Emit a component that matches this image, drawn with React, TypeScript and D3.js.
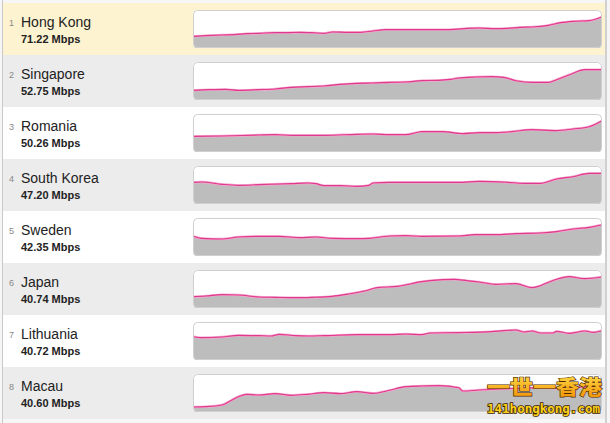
import React from 'react';
import * as d3 from 'd3';

const ranks = [1, 2, 3, 4, 5, 6, 7, 8];
const countries = ['Hong Kong', 'Singapore', 'Romania', 'South Korea', 'Sweden', 'Japan', 'Lithuania', 'Macau'];
const speeds = ['71.22', '52.75', '50.26', '47.20', '42.35', '40.74', '40.72', '40.60'];

// [time index 0..100, relative level 0..108]
const hongKong: [number, number][] = [[0,32],[3,34],[7,36],[10,37],[13,40],[16,41],[20,43],[23,43],[26,44],[29,43],[32,41],[34,45],[38,44],[41,44],[44,48],[47,52],[51,52],[54,52],[57,52],[61,52],[64,53],[67,56],[70,57],[74,55],[77,56],[80,59],[83,60],[87,65],[90,73],[93,77],[97,79],[100,90]];
const singapore: [number, number][] = [[0,26],[4,28],[8,29],[11,26],[16,28],[20,30],[24,35],[28,37],[32,39],[36,44],[40,47],[44,48],[48,50],[52,51],[56,55],[60,56],[63,59],[65,63],[69,66],[73,67],[76,65],[79,55],[83,50],[87,50],[89,58],[92,72],[96,88],[100,88]];
const romania: [number, number][] = [[0,44],[7,45],[16,48],[20,49],[24,47],[32,47],[40,50],[44,51],[48,49],[52,49],[56,58],[61,58],[65,53],[66,52],[70,55],[74,55],[78,58],[83,64],[89,61],[93,66],[97,73],[100,90]];
const southKorea: [number, number][] = [[0,62],[2,63],[7,56],[11,53],[16,55],[24,58],[28,60],[30,58],[32,52],[36,52],[40,50],[43,53],[44,60],[48,62],[56,62],[65,62],[70,65],[77,62],[81,59],[85,59],[89,72],[93,79],[97,89],[100,89]];
const sweden: [number, number][] = [[0,56],[2,50],[7,48],[11,54],[16,56],[21,56],[26,52],[30,54],[34,50],[40,49],[43,50],[48,57],[52,58],[56,56],[65,57],[69,61],[74,61],[79,64],[85,66],[89,70],[93,78],[97,83],[100,90]];
const japan: [number, number][] = [[0,31],[3,33],[7,37],[11,36],[16,30],[20,29],[25,28],[29,29],[34,32],[38,39],[42,48],[45,58],[50,62],[56,76],[58,79],[64,83],[67,79],[70,75],[74,68],[79,70],[83,58],[88,79],[92,91],[96,85],[100,90]];
const lithuania: [number, number][] = [[0,67],[2,64],[7,66],[11,71],[16,70],[19,69],[21,74],[25,70],[28,69],[32,70],[40,73],[48,73],[52,75],[56,73],[58,78],[65,79],[73,82],[76,85],[79,87],[81,81],[83,84],[85,78],[88,78],[89,83],[92,77],[96,84],[98,80],[100,85]];
const macau: [number, number][] = [[0,12],[3,13],[7,18],[9,30],[11,43],[13,50],[16,48],[20,52],[24,47],[28,50],[32,55],[36,52],[40,58],[44,53],[48,62],[52,73],[56,75],[60,76],[65,70],[66,60],[70,63],[75,66],[80,68],[85,70],[90,68],[95,72],[100,74]];

const seriesList = [hongKong, singapore, romania, southKorea, sweden, japan, lithuania, macau];

const W = 610;
const H = 423;
const ROW_TOP = 3;
const ROW_H = 52;
const BOX_X0 = 193;
const BOX_X1 = 602;
const BOX_TOP = 7;
const BOX_H = 38;

const rowFill = (i: number) => (i === 0 ? '#fdf3d0' : i % 2 === 1 ? '#ececec' : '#ffffff');

const font = '"Liberation Sans", Arial, Helvetica, sans-serif';

export default function App() {
  const x = d3.scaleLinear().domain([0, 100]).range([BOX_X0 + 0.5, BOX_X1 - 0.5]);
  return (
    <>
      <style>{'body{margin:0;}'}</style>
      <svg width={W} height={H} style={{ display: 'block' }}>
        <defs>
          {ranks.map((r, i) => {
            const top = ROW_TOP + i * ROW_H + BOX_TOP;
            return (
              <clipPath id={`clip${i}`} key={r}>
                <rect x={BOX_X0} y={top} width={BOX_X1 - BOX_X0} height={BOX_H} rx={4} />
              </clipPath>
            );
          })}
          <linearGradient id="wm" x1="0" y1="0" x2="0" y2="1">
            <stop offset="0" stopColor="#ffe14a" />
            <stop offset="1" stopColor="#f28a00" />
          </linearGradient>
        </defs>
        <rect x={0} y={0} width={W} height={H} fill="#f6f6f6" />
        {ranks.map((r, i) => {
          const rowTop = ROW_TOP + i * ROW_H;
          const top = rowTop + BOX_TOP;
          const bottom = top + BOX_H;
          const y = d3.scaleLinear().domain([0, 108]).range([bottom - 1, top + 1]);
          const data = seriesList[i];
          const area = d3
            .area<[number, number]>()
            .x((d) => x(d[0]))
            .y0(bottom)
            .y1((d) => y(d[1]))
            .curve(d3.curveMonotoneX);
          const line = d3
            .line<[number, number]>()
            .x((d) => x(d[0]))
            .y((d) => y(d[1]))
            .curve(d3.curveMonotoneX);
          return (
            <g key={r}>
              <rect x={3} y={rowTop} width={603} height={ROW_H} fill={rowFill(i)} />
              <text x={9} y={rowTop + 23} fontFamily={font} fontSize={9} fill="#888">
                {r}
              </text>
              <text x={21} y={rowTop + 24} fontFamily={font} fontSize={14} fill="#222">
                {countries[i]}
              </text>
              <text x={21} y={rowTop + 40} fontFamily={font} fontSize={11} fontWeight="bold" fill="#222">
                {speeds[i]} Mbps
              </text>
              <rect x={BOX_X0} y={top} width={BOX_X1 - BOX_X0} height={BOX_H} rx={4} fill="#ffffff" />
              <g clipPath={`url(#clip${i})`}>
                <path d={area(data) || ''} fill="#bdbdbd" />
                <path d={line(data) || ''} fill="none" stroke="#f4a9cc" strokeWidth={2.4} />
                <path d={line(data) || ''} fill="none" stroke="#e0388e" strokeWidth={1.1} />
              </g>
              <rect
                x={BOX_X0 + 0.5}
                y={top + 0.5}
                width={BOX_X1 - BOX_X0 - 1}
                height={BOX_H - 1}
                rx={4}
                fill="none"
                stroke="#cfcfcf"
              />
            </g>
          );
        })}
        <line x1={2.5} y1={0} x2={2.5} y2={H} stroke="#c9c9c9" />
        <line x1={606} y1={0} x2={606} y2={H} stroke="#d0d0d0" strokeWidth={2} />
        <text
          x={487}
          y={395}
          fontFamily='"Noto Sans CJK SC", sans-serif'
          fontWeight="900"
          fontSize={20}
          fill="url(#wm)"
          stroke="#4a2a00"
          strokeWidth={1.2}
          paintOrder="stroke"
          textLength={115}
          lengthAdjust="spacingAndGlyphs"
        >
          一世一香港
        </text>
        <text
          x={487}
          y={413}
          fontFamily='"DejaVu Sans Mono", monospace'
          fontWeight="bold"
          fontSize={12}
          fill="#ffd21a"
          stroke="#3a2200"
          strokeWidth={1.5}
          paintOrder="stroke"
          textLength={113}
          lengthAdjust="spacingAndGlyphs"
        >
          141hongkong.com
        </text>
      </svg>
    </>
  );
}
